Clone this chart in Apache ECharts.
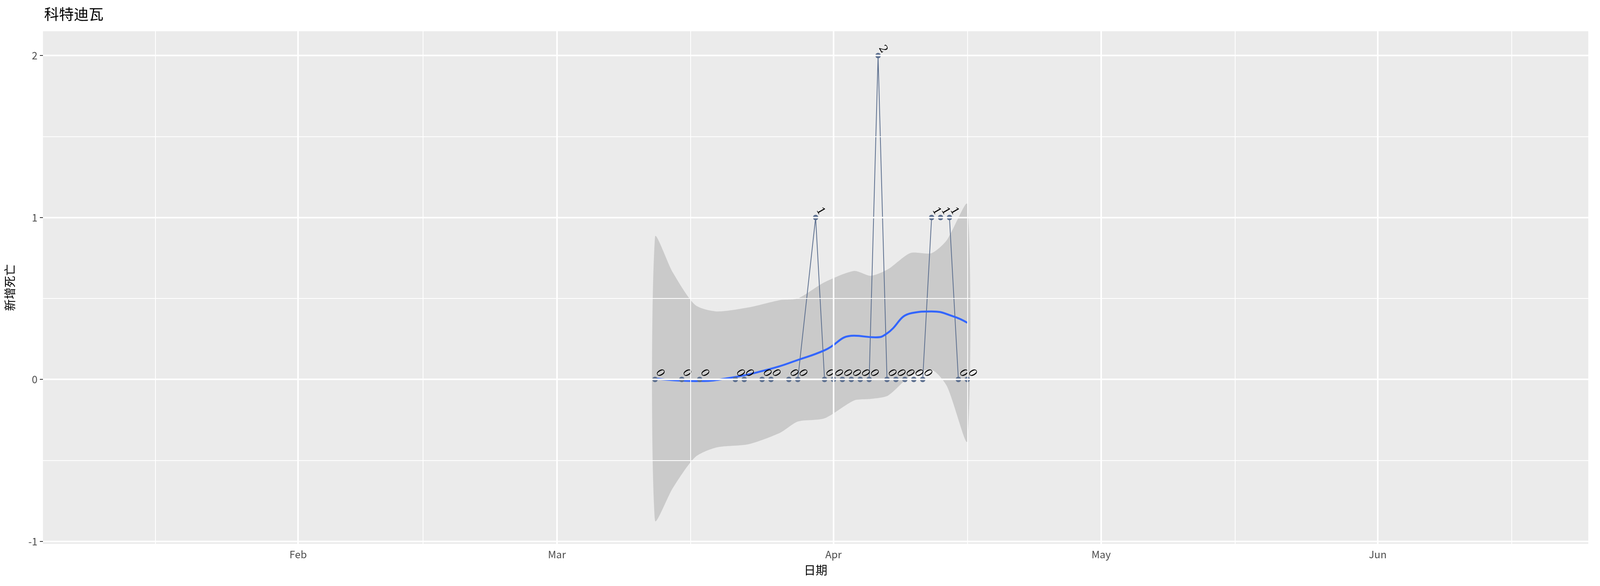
<!DOCTYPE html>
<html>
<head>
<meta charset="utf-8">
<script src="https://cdn.jsdelivr.net/npm/echarts@6/dist/echarts.min.js"></script>
<style>html,body{margin:0;background:#fff;overflow:hidden}#main{width:100vw;height:100vh}</style>
</head>
<body>
<div id="main"></div>
<script>
// daily data
var dates = ['2020-03-12','2020-03-15','2020-03-17','2020-03-21','2020-03-22','2020-03-24','2020-03-25',
    '2020-03-27','2020-03-28','2020-03-30','2020-03-31','2020-04-01','2020-04-02','2020-04-03','2020-04-04',
    '2020-04-05','2020-04-06','2020-04-07','2020-04-08','2020-04-09','2020-04-10','2020-04-11','2020-04-12',
    '2020-04-13','2020-04-14','2020-04-15','2020-04-16'];
var deaths = [0,0,0,0,0,0,0,0,0,1,0,0,0,0,0,0,2,0,0,0,0,0,1,1,1,0,0];

// loess fit + band, x in days after 2020-03-12
var fitDay = [0, 4.5, 8, 12.9, 16, 19, 22.3, 24.7, 25.9, 28.8, 31, 33.4, 35];
var fitVal = [0.006, -0.01, 0.006, 0.065, 0.12, 0.18, 0.27, 0.26, 0.28, 0.41, 0.42, 0.39, 0.35];
var bandDay = [0, 2, 4.5, 6.9, 10.5, 14, 16, 19, 22.3, 24.2, 26.1, 28.6, 31, 32.7, 35];
var bandHi = [0.88, 0.66, 0.46, 0.42, 0.445, 0.49, 0.50, 0.60, 0.67, 0.64, 0.68, 0.78, 0.78, 0.86, 1.08];
var bandLo = [-0.87, -0.67, -0.48, -0.42, -0.40, -0.33, -0.26, -0.24, -0.13, -0.12, -0.10, 0.02, 0.06, -0.04, -0.38];

var monthTicks = ['2020-02-01','2020-03-01','2020-04-01','2020-05-01','2020-06-01'];
var monthNames = ['Feb','Mar','Apr','May','Jun'];
var minorTicks = ['2020-01-16','2020-02-15','2020-03-16','2020-04-16','2020-05-16','2020-06-16'];
var yTicks = [-1, 0, 1, 2];
var yMinor = [-0.5, 0.5, 1.5];

var DAY = 86400000;
var t0 = Date.UTC(2020, 2, 12);
function ts(s) { var p = s.split('-'); return Date.UTC(+p[0], +p[1] - 1, +p[2]); }
var monthTs = monthTicks.map(ts);

var pts = dates.map(function (d, i) { return [ts(d), deaths[i]]; });
var fit = fitDay.map(function (d, i) { return [t0 + d * DAY, fitVal[i]]; });
var bandPts = [];
bandDay.forEach(function (d, i) { bandPts.push([t0 + d * DAY, bandHi[i]]); });
for (var i = bandDay.length - 1; i >= 0; i--) bandPts.push([t0 + bandDay[i] * DAY, bandLo[i]]);

var gridLines = [];
monthTicks.forEach(function (d) { gridLines.push({xAxis: ts(d), lineStyle: {width: 4}}); });
minorTicks.forEach(function (d) { gridLines.push({xAxis: ts(d), lineStyle: {width: 2}}); });
yTicks.forEach(function (v) { gridLines.push({yAxis: v, lineStyle: {width: 4}}); });
yMinor.forEach(function (v) { gridLines.push({yAxis: v, lineStyle: {width: 2}}); });

var chart = echarts.init(document.getElementById('main'));
chart.setOption({
    animation: false,
    textStyle: {fontFamily: 'Noto Sans CJK SC'},
    title: {
        text: '科特迪瓦', left: 108, top: 12,
        textStyle: {fontSize: 38, fontWeight: 'normal', color: '#000', fontFamily: 'Noto Sans CJK SC'}
    },
    grid: {left: 110, right: 30, top: 80, bottom: 108, backgroundColor: '#EBEBEB', show: true, borderWidth: 0},
    xAxis: {
        type: 'value',
        min: ts('2020-01-03') + 0.4 * DAY, max: ts('2020-06-24') + 0.6 * DAY,
        name: '日期', nameLocation: 'middle', nameGap: 52,
        nameTextStyle: {fontSize: 30, color: '#000'},
        axisLine: {show: false},
        splitLine: {show: false},
        axisTick: {show: true, customValues: monthTs, length: 8, lineStyle: {color: '#333', width: 2}},
        axisLabel: {
            customValues: monthTs, fontSize: 26, color: '#4d4d4d', margin: 14,
            formatter: function (v) { return monthNames[monthTs.indexOf(v)]; }
        }
    },
    yAxis: {
        type: 'value', min: -1.015, max: 2.15,
        name: '新增死亡', nameLocation: 'middle', nameGap: 70,
        nameTextStyle: {fontSize: 30, color: '#000'},
        axisLine: {show: false},
        splitLine: {show: false},
        axisTick: {show: true, customValues: yTicks, length: 8, lineStyle: {color: '#333', width: 2}},
        axisLabel: {customValues: yTicks, fontSize: 26, color: '#4d4d4d', margin: 14}
    },
    series: [
        {
            type: 'line', data: [[ts('2020-03-12'), 0]], symbol: 'none', lineStyle: {opacity: 0}, silent: true,
            markLine: {silent: true, symbol: 'none', label: {show: false}, lineStyle: {color: '#fff', type: 'solid'}, data: gridLines}
        },
        {
            type: 'custom', silent: true, data: [0],
            renderItem: function (params, api) {
                return {
                    type: 'polygon',
                    shape: {points: bandPts.map(function (p) { return api.coord(p); }), smooth: 0.25},
                    style: {fill: 'rgba(153,153,153,0.4)'}
                };
            }
        },
        {
            type: 'line', data: pts, symbol: 'circle', symbolSize: 14,
            itemStyle: {color: '#5b6e8e'}, lineStyle: {color: '#5b6e8e', width: 2},
            label: {show: true, position: 'top', distance: 2, rotate: -60, fontSize: 28, color: '#000', fontFamily: 'DejaVu Serif'}
        },
        {
            type: 'line', data: fit, symbol: 'none', smooth: 0.5,
            lineStyle: {color: '#3366FF', width: 5}
        }
    ]
});
</script>
</body>
</html>
